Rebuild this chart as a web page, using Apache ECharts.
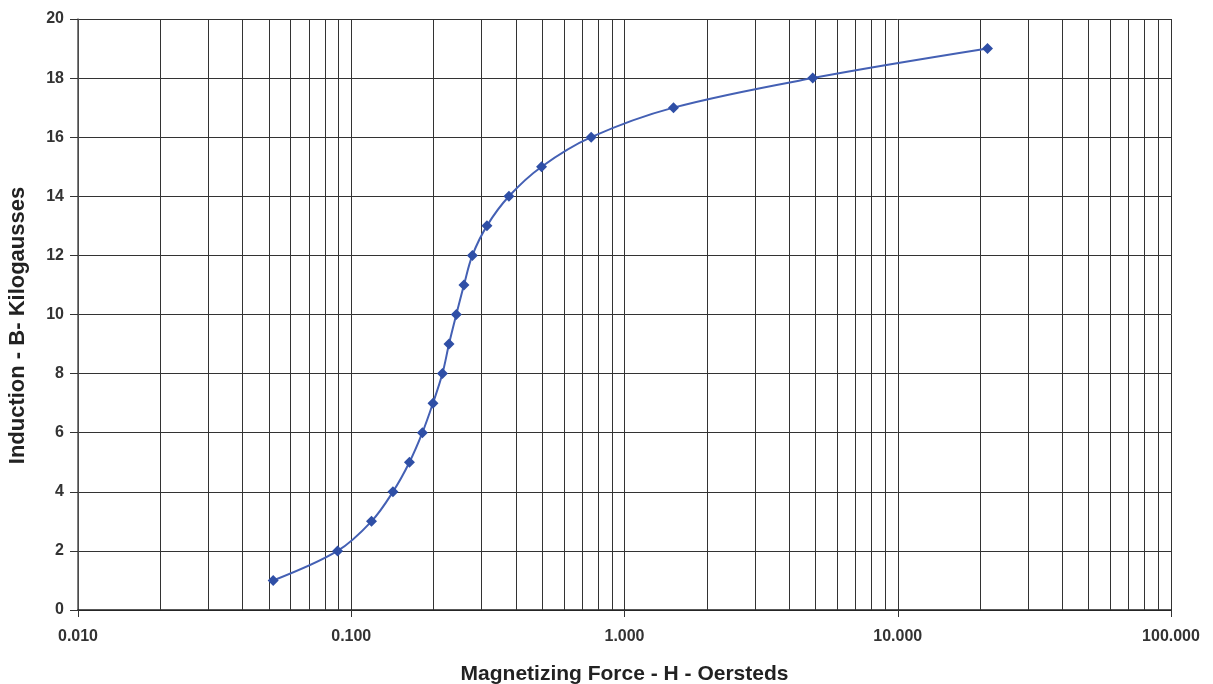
<!DOCTYPE html>
<html>
<head>
<meta charset="utf-8">
<script src="https://cdn.jsdelivr.net/npm/echarts@6/dist/echarts.min.js"></script>
<style>
html,body{margin:0;padding:0;background:#fff;}
#chart{width:1213px;height:684px;}
</style>
</head>
<body>
<div id="chart"></div>
<script>
// Data
var hValues = [0.0518, 0.0891, 0.1186, 0.1421, 0.1633, 0.1821, 0.1991, 0.2156, 0.2279, 0.2424,
               0.2585, 0.2775, 0.3137, 0.3776, 0.4972, 0.7552, 1.511, 4.886, 21.3];
var bValues = [1, 2, 3, 4, 5, 6, 7, 8, 9, 10, 11, 12, 13, 14, 15, 16, 17, 18, 19];
var minorGridX = [0.02, 0.03, 0.04, 0.05, 0.06, 0.07, 0.08, 0.09,
                  0.2, 0.3, 0.4, 0.5, 0.6, 0.7, 0.8, 0.9,
                  2, 3, 4, 5, 6, 7, 8, 9,
                  20, 30, 40, 50, 60, 70, 80, 90];
var xTitle = 'Magnetizing Force - H - Oersteds';
var yTitle = 'Induction - B- Kilogausses';

var points = hValues.map(function (h, i) { return [h, bValues[i]]; });
var gridColor = '#333333';
var font = '"Liberation Sans", Arial, sans-serif';

var chart = echarts.init(document.getElementById('chart'), null, {renderer: 'canvas'});
chart.setOption({
  animation: false,
  backgroundColor: '#ffffff',
  grid: {left: 78, right: 42, top: 19, bottom: 74, containLabel: false, outerBoundsMode: 'none'},
  xAxis: {
    type: 'log',
    logBase: 10,
    min: 0.01,
    max: 100,
    name: xTitle,
    nameLocation: 'middle',
    nameGap: 54,
    nameTextStyle: {fontFamily: font, fontWeight: 'bold', fontSize: 21, color: '#222'},
    axisLine: {show: true, lineStyle: {color: '#222', width: 1.5}},
    axisTick: {show: true, length: 7, lineStyle: {color: '#333'}},
    axisLabel: {
      fontFamily: font, fontWeight: 'bold', fontSize: 16, color: '#333', margin: 19,
      formatter: function (v) { return Number(v).toFixed(3); }
    },
    splitLine: {show: true, lineStyle: {color: gridColor, width: 1}},
    minorTick: {show: false},
    minorSplitLine: {show: false}
  },
  yAxis: {
    type: 'value',
    min: 0,
    max: 20,
    interval: 2,
    name: yTitle,
    nameLocation: 'middle',
    nameGap: 49,
    nameTextStyle: {fontFamily: font, fontWeight: 'bold', fontSize: 22, color: '#222', padding: [0, 22, 0, 0]},
    axisLine: {show: true, lineStyle: {color: '#555', width: 1.5}},
    axisTick: {show: true, inside: false, length: 8, lineStyle: {color: '#333'}},
    axisLabel: {fontFamily: font, fontWeight: 'bold', fontSize: 16, color: '#333', margin: 14},
    splitLine: {show: true, lineStyle: {color: gridColor, width: 1}}
  },
  series: [{
    type: 'line',
    data: points,
    smooth: 0.35,
    symbol: 'diamond',
    symbolSize: 11,
    showSymbol: true,
    itemStyle: {color: '#2f4fa6'},
    lineStyle: {color: '#4460b4', width: 2},
    z: 5,
    markLine: {
      silent: true,
      symbol: ['none', 'none'],
      label: {show: false},
      lineStyle: {color: gridColor, width: 1, type: 'solid'},
      z: 1,
      data: minorGridX.map(function (v) { return {xAxis: v}; })
    }
  }]
});
</script>
</body>
</html>
